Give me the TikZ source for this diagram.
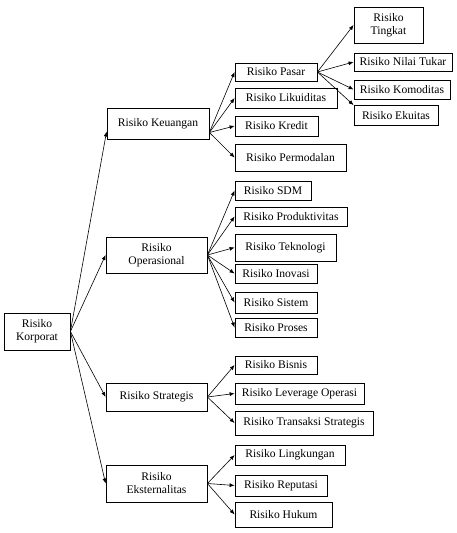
\documentclass[tikz,border=0pt]{standalone}
\usepackage{fontspec}
\setmainfont{Liberation Serif}
\usepackage{tikz}
\usetikzlibrary{arrows.meta,positioning,calc}

\begin{document}
\begin{tikzpicture}[
  x=1pt, y=-1pt,
  font=\fontsize{11.6}{13}\selectfont,
  box/.style={
    draw=black, fill=white, line width=0.8pt,
    align=center, inner sep=1pt, minimum height=19pt
  },
  arr/.style={-{Latex[length=5pt,width=4pt]}, draw=black, line width=0.6pt}
]

\useasboundingbox (0,0) rectangle (456,533);

% akar dan cabang utama
\node[box, minimum width=66pt, minimum height=37pt]  (kor) at (37,331.5)  {Risiko\\Korporat};
\node[box, minimum width=102pt, minimum height=31pt] (keu) at (158,123.5) {Risiko Keuangan};
\node[box, minimum width=101pt, minimum height=36pt] (ops) at (156.5,255) {Risiko\\Operasional};
\node[box, minimum width=101pt, minimum height=28pt] (str) at (156.5,397) {Risiko Strategis};
\node[box, minimum width=101pt, minimum height=37pt] (eks) at (156.5,483.5) {Risiko\\Eksternalitas};

% risiko keuangan
\node[box, minimum width=82pt, minimum height=18pt]  (pasar)  at (276,72)    {Risiko Pasar};
\node[box, minimum width=102pt, minimum height=20pt] (likui)  at (286,98)    {Risiko Likuiditas};
\node[box, minimum width=83pt, minimum height=20pt]  (kredit) at (276.5,126) {Risiko Kredit};
\node[box, minimum width=111pt, minimum height=27pt] (modal)  at (290.5,157.5) {Risiko Permodalan};

% risiko pasar
\node[box, minimum width=69pt, minimum height=36pt]  (ting)  at (388.5,25) {Risiko\\Tingkat};
\node[box, minimum width=98pt, minimum height=18pt]  (nilai) at (403,62)   {Risiko Nilai Tukar};
\node[box, minimum width=96pt, minimum height=19pt]  (komo)  at (402,89.5) {Risiko Komoditas};
\node[box, minimum width=84pt, minimum height=20pt]  (ekui)  at (396,115.5) {Risiko Ekuitas};

% risiko operasional
\node[box, minimum width=76pt, minimum height=19pt]  (sdm)   at (273,190.5) {Risiko SDM};
\node[box, minimum width=112pt, minimum height=19pt] (prod)  at (291,216.5) {Risiko Produktivitas};
\node[box, minimum width=101pt, minimum height=27pt] (tekno) at (285.5,247.5) {Risiko Teknologi};
\node[box, minimum width=82pt, minimum height=19pt]  (inov)  at (276,273.5) {Risiko Inovasi};
\node[box, minimum width=82pt, minimum height=21pt]  (sist)  at (276,302.5) {Risiko Sistem};
\node[box, minimum width=82pt, minimum height=19pt]  (pros)  at (276,327.5) {Risiko Proses};

% risiko strategis
\node[box, minimum width=82pt, minimum height=18pt]  (bis)   at (276,365)   {Risiko Bisnis};
\node[box, minimum width=129pt, minimum height=21pt] (lev)   at (299.5,393.5) {Risiko Leverage Operasi};
\node[box, minimum width=138pt, minimum height=24pt] (trans) at (304,423)   {Risiko Transaksi Strategis};

% risiko eksternalitas
\node[box, minimum width=110pt, minimum height=20pt] (ling)  at (290,455)   {Risiko Lingkungan};
\node[box, minimum width=92pt, minimum height=21pt]  (rep)   at (281,485.5) {Risiko Reputasi};
\node[box, minimum width=97pt, minimum height=25pt]  (huk)   at (283.5,514.5) {Risiko Hukum};

\coordinate (keuin)  at ([yshift=-8pt]keu.west);
\coordinate (keuout) at ([yshift=-9pt]keu.east);

\draw[arr] (kor.east) -- (keuin);
\draw[arr] (kor.east) -- (ops.west);
\draw[arr] (kor.east) -- (str.west);
\draw[arr] (kor.east) -- (eks.west);

\draw[arr] (keuout) -- (pasar.west);
\draw[arr] (keuout) -- (likui.west);
\draw[arr] (keuout) -- (kredit.west);
\draw[arr] (keuout) -- (modal.west);

\draw[arr] (pasar.east) -- (ting.west);
\draw[arr] (pasar.east) -- (nilai.west);
\draw[arr] (pasar.east) -- (komo.west);
\draw[arr] (pasar.east) -- (ekui.north west);

\draw[arr] (ops.east) -- (sdm.west);
\draw[arr] (ops.east) -- (prod.west);
\draw[arr] (ops.east) -- (tekno.west);
\draw[arr] (ops.east) -- (inov.west);
\draw[arr] (ops.east) -- (sist.west);
\draw[arr] (ops.east) -- (pros.west);

\draw[arr] (str.east) -- (bis.west);
\draw[arr] (str.east) -- (lev.west);
\draw[arr] (str.east) -- (trans.west);

\draw[arr] (eks.east) -- (ling.west);
\draw[arr] (eks.east) -- (rep.west);
\draw[arr] (eks.east) -- (huk.west);

\end{tikzpicture}
\end{document}
